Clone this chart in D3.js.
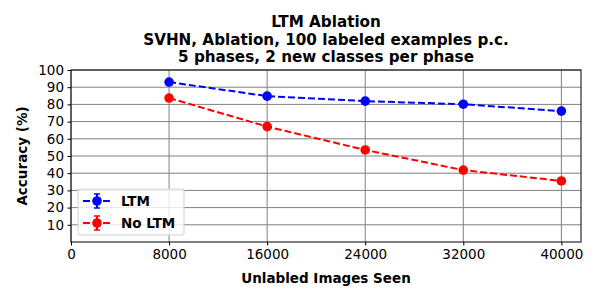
<!DOCTYPE html>
<html>
<head>
<meta charset="utf-8">
<script src="https://cdn.jsdelivr.net/npm/d3@7"></script>
<style>
  body { margin: 0; background: #fff; }
  text { font-family: "DejaVu Sans", sans-serif; }
</style>
</head>
<body>
<div id="chart"></div>
<script>
const WIDTH = 600;
const HEIGHT = 300;

// data
const imagesSeen = [8000, 16000, 24000, 32000, 40000];
const ltmAcc = [93.0, 84.8, 81.9, 80.1, 76.1];
const ltmErr = [0.6, 0.5, 0.5, 0.5, 0.5];
const noLtmAcc = [83.7, 67.1, 53.5, 41.8, 35.5];
const noLtmErr = [0.8, 0.6, 0.6, 0.6, 0.5];
const xTicks = [0, 8000, 16000, 24000, 32000, 40000];
const yTicks = [10, 20, 30, 40, 50, 60, 70, 80, 90, 100];
const titleLines = ["LTM Ablation", "SVHN, Ablation, 100 labeled examples p.c.", "5 phases, 2 new classes per phase"];

const series = [
    { name: "LTM", color: "#0000ff", values: ltmAcc, errs: ltmErr },
    { name: "No LTM", color: "#ff0000", values: noLtmAcc, errs: noLtmErr }
];

const FONT = "13.5px";
const margin = { top: 70, right: 19, bottom: 58, left: 71 };
const plotW = WIDTH - margin.left - margin.right;
const plotH = HEIGHT - margin.top - margin.bottom;

const svg = d3.select("#chart")
    .append("svg")
    .attr("width", WIDTH)
    .attr("height", HEIGHT);

const x = d3.scaleLinear().domain([0, 41600]).range([0, plotW]);
const y = d3.scaleLinear().domain([0, 100]).range([plotH, 0]);

const g = svg.append("g").attr("transform", `translate(${margin.left},${margin.top})`);

// grid
g.append("g")
    .selectAll("line.gy")
    .data(yTicks)
    .enter().append("line")
    .attr("x1", 0).attr("x2", plotW)
    .attr("y1", d => y(d)).attr("y2", d => y(d))
    .style("stroke", "#808080").style("stroke-width", 1);

g.append("g")
    .selectAll("line.gx")
    .data(xTicks)
    .enter().append("line")
    .attr("x1", d => x(d)).attr("x2", d => x(d))
    .attr("y1", 0).attr("y2", plotH)
    .style("stroke", "#808080").style("stroke-width", 1);

// axes
const xAxis = g.append("g")
    .attr("transform", `translate(0,${plotH})`)
    .call(d3.axisBottom(x).tickValues(xTicks).tickFormat(d3.format("d")).tickSize(3.5).tickPadding(3.5));
const yAxis = g.append("g")
    .call(d3.axisLeft(y).tickValues(yTicks).tickSize(3.5).tickPadding(3.5));

[xAxis, yAxis].forEach(a => {
    a.selectAll("text").style("font-size", FONT).style("fill", "#000")
        .style("font-family", "'DejaVu Sans', sans-serif");
    a.selectAll("line").style("stroke", "#000");
    a.select(".domain").remove();
});

// frame
g.append("rect")
    .attr("width", plotW).attr("height", plotH)
    .style("fill", "none").style("stroke", "#000").style("stroke-width", 1);

// lines + error bars + markers
const line = d3.line().x((d, i) => x(imagesSeen[i])).y(d => y(d));

series.forEach(s => {
    const sg = g.append("g");
    sg.append("path")
        .datum(s.values)
        .attr("d", line)
        .style("fill", "none")
        .style("stroke", s.color)
        .style("stroke-width", 2)
        .style("stroke-dasharray", "7,3");
    s.values.forEach((v, i) => {
        const cx = x(imagesSeen[i]);
        sg.append("line")
            .attr("x1", cx).attr("x2", cx)
            .attr("y1", y(v - s.errs[i])).attr("y2", y(v + s.errs[i]))
            .style("stroke", s.color).style("stroke-width", 2);
        [v - s.errs[i], v + s.errs[i]].forEach(e => {
            sg.append("line")
                .attr("x1", cx - 3).attr("x2", cx + 3)
                .attr("y1", y(e)).attr("y2", y(e))
                .style("stroke", s.color).style("stroke-width", 1.5);
        });
        sg.append("circle")
            .attr("cx", cx).attr("cy", y(v)).attr("r", 4.8)
            .style("fill", s.color);
    });
});

// legend
const legend = g.append("g").attr("transform", "translate(7,119)");
legend.append("rect")
    .attr("width", 106).attr("height", 46).attr("rx", 2)
    .style("fill", "#fff").style("fill-opacity", 0.8)
    .style("stroke", "#d0d0d0");
series.forEach((s, i) => {
    const ly = 12 + i * 22;
    legend.append("line")
        .attr("x1", 5).attr("x2", 33).attr("y1", ly).attr("y2", ly)
        .style("stroke", s.color).style("stroke-width", 2).style("stroke-dasharray", "7,3");
    legend.append("line")
        .attr("x1", 19).attr("x2", 19).attr("y1", ly - 7).attr("y2", ly + 7)
        .style("stroke", s.color).style("stroke-width", 2);
    [ly - 7, ly + 7].forEach(cy => {
        legend.append("line")
            .attr("x1", 16).attr("x2", 22).attr("y1", cy).attr("y2", cy)
            .style("stroke", s.color).style("stroke-width", 1.5);
    });
    legend.append("circle").attr("cx", 19).attr("cy", ly).attr("r", 4.8).style("fill", s.color);
    legend.append("text")
        .attr("x", 43).attr("y", ly).attr("dy", "0.36em")
        .style("font-size", FONT).style("font-weight", "bold")
        .text(s.name);
});

// labels
svg.append("text")
    .attr("x", margin.left + plotW / 2).attr("y", 283)
    .attr("text-anchor", "middle")
    .style("font-size", FONT).style("font-weight", "bold")
    .text("Unlabled Images Seen");

svg.append("text")
    .attr("transform", `translate(27,${margin.top + plotH / 2}) rotate(-90)`)
    .attr("text-anchor", "middle")
    .style("font-size", FONT).style("font-weight", "bold")
    .text("Accuracy (%)");

titleLines.forEach((t, i) => {
    svg.append("text")
        .attr("x", margin.left + plotW / 2).attr("y", 27 + i * 17.5)
        .attr("text-anchor", "middle")
        .style("font-size", "15.2px").style("font-weight", "bold")
        .text(t);
});
</script>
</body>
</html>
